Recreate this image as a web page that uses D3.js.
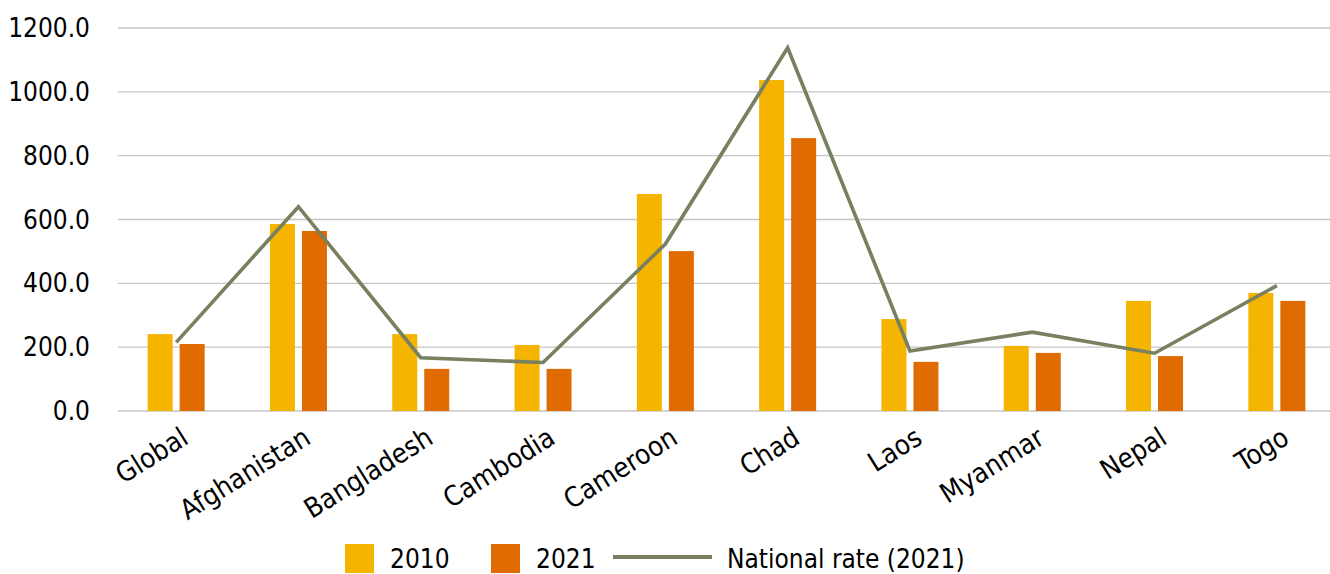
<!DOCTYPE html>
<html>
<head>
<meta charset="utf-8">
<script src="https://cdn.jsdelivr.net/npm/d3@7"></script>
<style>
  body { margin: 0; background: #fff; }
  text { font-family: "Liberation Sans Narrow", "DejaVu Sans Condensed", sans-serif; fill: #000; }
</style>
</head>
<body>
<div id="chart"></div>
<script>
// values
const countries = ["Global", "Afghanistan", "Bangladesh", "Cambodia", "Cameroon", "Chad", "Laos", "Myanmar", "Nepal", "Togo"];
const years = ["2010", "2021"];
const values2010 = [241, 586, 241, 207, 680, 1037, 288, 204, 345, 370];
const values2021 = [210, 564, 132, 132, 501, 855, 154, 182, 172, 345];
const nationalRate = [215, 640, 167, 152, 523, 1138, 188, 247, 181, 393];
const yTicks = [0, 200, 400, 600, 800, 1000, 1200];
const lineLabel = "National rate (2021)";

const width = 1330, height = 574;
const colors = { "2010": "#F5B400", "2021": "#E06B00" };
const lineColor = "#77805F";
const fontSize = "26px";

const svg = d3.select("#chart").append("svg")
    .attr("width", width)
    .attr("height", height);

const x = d3.scaleBand().domain(countries).range([115, 1338]);
const xInner = d3.scaleBand().domain(years).range([0, 57]).paddingInner(7 / 32);
const y = d3.scaleLinear().domain([0, 1200]).range([411, 28]);

// gridlines
svg.append("g").selectAll("line")
    .data(yTicks)
    .join("line")
    .attr("x1", 118).attr("x2", width)
    .attr("y1", d => y(d)).attr("y2", d => y(d))
    .attr("stroke", "#c6c6c6")
    .attr("stroke-width", 1.4);

// y tick labels
svg.append("g").selectAll("text")
    .data(yTicks)
    .join("text")
    .attr("x", 90)
    .attr("y", d => y(d) + 9)
    .attr("text-anchor", "end")
    .style("font-size", fontSize)
    .text(d => d3.format(".1f")(d));

// bars
const rows = countries.map((c, i) => ({ country: c, "2010": values2010[i], "2021": values2021[i] }));
const groups = svg.append("g").selectAll("g")
    .data(rows)
    .join("g")
    .attr("transform", d => `translate(${x(d.country) + x.bandwidth() / 2 - 28.5},0)`);

groups.selectAll("rect")
    .data(d => years.map(yr => ({ year: yr, value: d[yr] })))
    .join("rect")
    .attr("x", d => xInner(d.year))
    .attr("width", xInner.bandwidth())
    .attr("y", d => y(d.value))
    .attr("height", d => y(0) - y(d.value))
    .attr("fill", d => colors[d.year]);

// national rate line
const line = d3.line()
    .x((d, i) => x(countries[i]) + x.bandwidth() / 2)
    .y(d => y(d));

svg.append("path")
    .datum(nationalRate)
    .attr("d", line)
    .attr("fill", "none")
    .attr("stroke", lineColor)
    .attr("stroke-width", 3.6)
    .attr("stroke-linejoin", "miter");

// x labels, rotated
svg.append("g").selectAll("text")
    .data(countries)
    .join("text")
    .attr("text-anchor", "end")
    .attr("dy", "0.75em")
    .attr("transform", d => `translate(${x(d) + x.bandwidth() / 2 + 3},425) rotate(-32)`)
    .style("font-size", "27.5px")
    .text(d => d);

// legend
const legend = svg.append("g");
const legendItems = [
    { label: years[0], x: 345 },
    { label: years[1], x: 491 }
];
legend.selectAll("rect")
    .data(legendItems)
    .join("rect")
    .attr("x", d => d.x).attr("y", 544)
    .attr("width", 29).attr("height", 29)
    .attr("fill", d => colors[d.label]);
legend.selectAll("text.yr")
    .data(legendItems)
    .join("text")
    .attr("class", "yr")
    .attr("x", d => d.x + 45)
    .attr("y", 568)
    .style("font-size", fontSize)
    .text(d => d.label);
legend.append("line")
    .attr("x1", 613).attr("x2", 712)
    .attr("y1", 557).attr("y2", 557)
    .attr("stroke", lineColor)
    .attr("stroke-width", 4);
legend.append("text")
    .attr("x", 727).attr("y", 568)
    .style("font-size", fontSize)
    .text(lineLabel);
</script>
</body>
</html>
